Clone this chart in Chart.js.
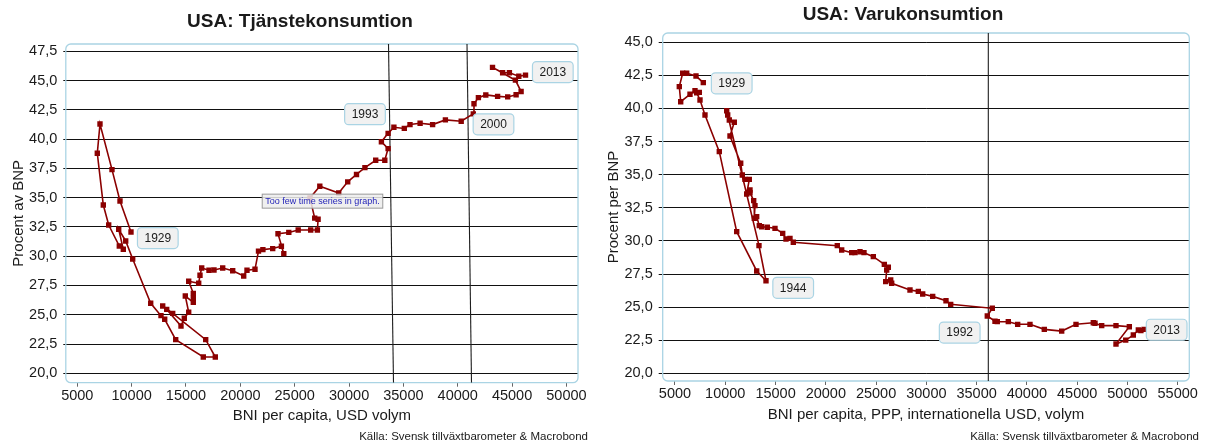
<!DOCTYPE html>
<html><head><meta charset="utf-8">
<script src="https://cdn.jsdelivr.net/npm/chart.js@4.4.1/dist/chart.umd.min.js"></script>
<style>
html,body{margin:0;padding:0;background:#fff;width:1208px;height:444px;overflow:hidden;}
canvas{position:absolute;top:0;}
#c1{left:12px;}
#c2{left:607px;}
</style></head><body>
<canvas id="c1" width="576" height="444"></canvas>
<canvas id="c2" width="592" height="444"></canvas>
<script>
// ---------- data ----------
const servX = [9940,8928,8192,7088,6840,7392,7889,8864,9232,8809,9453,10097,11753,12700,13041,14053,16592,17696,16813,13777,12857,13225,14540,14844,15249,14936,15672,15672,15672,15249,16169,16288,16445,17116,17576,18377,19297,20309,20612,21348,21670,22075,22977,23777,23998,23464,24458,25323,26473,27089,27154,26841,26408,27310,29049,29877,30687,31460,32453,33290,33594,32977,33594,34127,35084,35608,36538,37688,38865,40319,41432,41496,41901,42582,43668,44597,45370,45830,45306,43200,44129,44754,45618,46235];
const servY = [32.07,34.71,37.39,41.29,38.79,34.37,32.66,30.87,30.59,32.30,31.30,29.76,25.98,24.92,24.61,22.87,21.39,21.39,22.87,25.12,25.75,25.46,24.04,24.70,25.21,26.60,26.06,26.40,26.83,27.86,27.69,28.37,28.99,28.80,28.82,28.99,28.76,28.31,28.80,28.88,30.43,30.56,30.65,30.85,30.22,31.92,32.03,32.24,32.24,32.24,33.15,33.25,34.97,35.97,35.40,36.35,36.98,37.56,38.19,38.19,39.19,39.77,40.49,41.01,40.91,41.24,41.35,41.24,41.64,41.52,42.15,43.02,43.54,43.77,43.65,43.60,43.79,44.06,45.03,46.12,45.66,45.66,45.37,45.46];
const goodsX = [7815,7089,6164,5766,5428,5567,6492,6989,7417,7158,7487,7984,9406,11137,13126,14051,13354,10142,10242,10401,10898,10470,11535,11694,11962,12390,12131,12460,12460,12827,12957,12887,13126,13385,13623,14180,14946,15712,16040,16438,16766,21142,21580,22575,22903,23400,23798,24726,25820,26218,26056,25956,26453,26553,28373,29200,29637,30631,31954,32421,36558,36061,36827,37056,38150,39085,40308,41731,43461,44884,46605,46774,47440,48862,50188,48862,49829,50585,51083,51340,51650];
const goodsY = [41.95,42.45,42.66,42.66,41.65,40.51,41.07,41.34,41.22,41.19,40.64,39.51,36.74,30.70,27.73,26.99,29.64,39.83,39.51,39.13,38.96,37.92,35.86,34.98,34.65,34.65,33.54,33.84,33.64,33.04,32.66,31.71,31.83,31.15,31.07,31.03,30.95,30.57,30.14,30.19,29.90,29.64,29.31,29.11,29.11,29.18,29.11,28.81,28.23,28.01,27.80,26.92,27.05,26.80,26.29,26.19,25.99,25.81,25.48,25.21,24.91,24.33,23.93,23.90,23.90,23.70,23.70,23.32,23.19,23.70,23.82,23.78,23.60,23.60,23.52,22.21,22.51,22.89,23.27,23.22,23.32];

const servXTicks = [5000,10000,15000,20000,25000,30000,35000,40000,45000,50000];
const servYTicks = [20,22.5,25,27.5,30,32.5,35,37.5,40,42.5,45,47.5];
const goodsXTicks = [5000,10000,15000,20000,25000,30000,35000,40000,45000,50000,55000];
const goodsYTicks = [20,22.5,25,27.5,30,32.5,35,37.5,40,42.5,45];

// marker lines: [x at top, x at bottom]
const servMarkLines = [[33630,34090],[40852,41266]];
const goodsMarkLines = [[36162,36162]];

// year labels
const servNoteText = ['1929','1993','2000','2013'];
const servNoteX = [12406,31468,43290,48746];
const servNoteY = [31.55,42.13,41.26,45.72];
const goodsNoteText = ['1929','1944','1992','2013'];
const goodsNoteX = [10640,16756,33316,53900];
const goodsNoteY = [41.90,26.46,23.08,23.29];

const warnText = 'Too few time series in graph.';
const warnX = 27558, warnY = 34.70;

const source = 'Källa: Svensk tillväxtbarometer & Macrobond';

// ---------- rendering ----------
const FONT = "'Liberation Sans', Arial, Helvetica, sans-serif";
Chart.defaults.font.family = FONT;
Chart.defaults.color = '#1a1a1a';

function rrect(ctx, x, y, w, h, r) {
  ctx.beginPath();
  ctx.moveTo(x + r, y);
  ctx.lineTo(x + w - r, y);
  ctx.arcTo(x + w, y, x + w, y + r, r);
  ctx.lineTo(x + w, y + h - r);
  ctx.arcTo(x + w, y + h, x + w - r, y + h, r);
  ctx.lineTo(x + r, y + h);
  ctx.arcTo(x, y + h, x, y + h - r, r);
  ctx.lineTo(x, y + r);
  ctx.arcTo(x, y, x + r, y, r);
  ctx.closePath();
}

const framePlugin = {
  id: 'frame',
  beforeDatasetsDraw(chart) {
    const a = chart.chartArea, ctx = chart.ctx;
    ctx.save();
    ctx.strokeStyle = 'rgb(170,212,228)';
    ctx.lineWidth = 1.3;
    rrect(ctx, a.left, a.top, a.right - a.left, a.bottom - a.top, 5);
    ctx.stroke();
    ctx.restore();
  }
};

const notesPlugin = {
  id: 'notes',
  afterDatasetsDraw(chart, args, opts) {
    const ctx = chart.ctx, sx = chart.scales.x, sy = chart.scales.y;
    ctx.save();
    ctx.font = '12px ' + FONT;
    ctx.textAlign = 'center';
    ctx.textBaseline = 'middle';
    opts.text.forEach((t, i) => {
      const cx = sx.getPixelForValue(opts.x[i]);
      const cy = sy.getPixelForValue(opts.y[i]);
      const w = ctx.measureText(t).width + 14, h = 21;
      rrect(ctx, cx - w / 2, cy - h / 2, w, h, 4);
      ctx.fillStyle = '#f1f1f1';
      ctx.fill();
      ctx.strokeStyle = 'rgb(170,212,228)';
      ctx.lineWidth = 1.2;
      ctx.stroke();
      ctx.fillStyle = '#1a1a1a';
      ctx.fillText(t, cx, cy + 0.5);
    });
    if (opts.warn) {
      const cx = sx.getPixelForValue(opts.warn.x);
      const cy = sy.getPixelForValue(opts.warn.y);
      ctx.font = '9px ' + FONT;
      const w = ctx.measureText(opts.warn.text).width + 6, h = 14;
      ctx.fillStyle = 'rgba(236,236,236,0.85)';
      ctx.fillRect(cx - w / 2, cy - h / 2, w, h);
      ctx.strokeStyle = '#999';
      ctx.lineWidth = 1;
      ctx.strokeRect(cx - w / 2, cy - h / 2, w, h);
      ctx.fillStyle = '#2525b8';
      ctx.fillText(opts.warn.text, cx, cy + 0.5);
    }
    ctx.restore();
  }
};

function makeChart(id, c) {
  const pts = c.xs.map((x, i) => ({x: x, y: c.ys[i]}));
  const datasets = [{
    data: pts,
    showLine: true,
    borderColor: '#8b0000',
    backgroundColor: '#8b0000',
    borderWidth: 1.6,
    pointStyle: 'rect',
    pointRadius: 3.8,
    pointBorderWidth: 0,
    pointBackgroundColor: '#8b0000',
    order: 1
  }];
  c.marks.forEach(m => datasets.push({
    data: [{x: m[0], y: c.yMax}, {x: m[1], y: c.yMin}],
    showLine: true,
    borderColor: '#1e1e1e',
    borderWidth: 1.1,
    pointRadius: 0,
    order: 2
  }));
  return new Chart(document.getElementById(id), {
    type: 'scatter',
    data: {datasets: datasets},
    plugins: [framePlugin, notesPlugin],
    options: {
      responsive: false,
      animation: false,
      layout: {padding: 0},
      plugins: {
        legend: {display: false},
        tooltip: {enabled: false},
        title: {display: true, text: c.title, color: '#1a1a1a',
          font: {size: 19, weight: 'bold'}, padding: c.titlePad},
        subtitle: {display: true, text: source, position: 'bottom', align: 'end',
          color: '#1a1a1a', font: {size: 11.5}, padding: {top: 0, bottom: 0}},
        notes: {text: c.notes, x: c.noteX, y: c.noteY, warn: c.warn}
      },
      scales: {
        x: {
          type: 'linear', min: c.xMin, max: c.xMax,
          afterBuildTicks: s => { s.ticks = c.xTicks.map(v => ({value: v})); },
          afterFit: s => { s.height = c.xAxisH; },
          grid: {drawOnChartArea: false, tickLength: 4, color: '#666'},
          border: {display: false},
          ticks: {callback: v => String(v), font: {size: 14.5}, color: '#1a1a1a',
            padding: 0.6, maxRotation: 0, autoSkip: false},
          title: {display: true, text: c.xTitle, color: '#1a1a1a', font: {size: 15},
            padding: {top: 0, bottom: c.xTitlePadB}}
        },
        y: {
          type: 'linear', position: 'left', min: c.yMin, max: c.yMax,
          afterBuildTicks: s => { s.ticks = c.yTicks.map(v => ({value: v})); },
          afterFit: s => { s.width = c.yAxisW; },
          grid: {color: '#111', lineWidth: 1, tickLength: c.yTickLen},
          border: {display: false},
          ticks: {callback: v => v.toFixed(1).replace('.', ','), font: {size: 14.5},
            color: '#1a1a1a', padding: c.yTickPad, autoSkip: false},
          title: {display: true, text: c.yTitle, color: '#1a1a1a', font: {size: 15},
            padding: {top: c.yTitlePadT, bottom: 0}}
        },
        y2: {
          type: 'linear', position: 'right', display: true,
          grid: {display: false}, border: {display: false},
          ticks: {display: false},
          afterFit: s => { s.width = c.rightW; }
        }
      }
    }
  });
}

makeChart('c1', {
  xs: servX, ys: servY, xTicks: servXTicks, yTicks: servYTicks,
  xMin: 3942, xMax: 51064, yMin: 19.197, yMax: 48.12,
  title: 'USA: Tjänstekonsumtion', titlePad: {top: 10.6, bottom: 10.6},
  xTitle: 'BNI per capita, USD volym', yTitle: 'Procent av BNP',
  xAxisH: 47.5, xTitlePadB: 5.6, yAxisW: 53.8, rightW: 10,
  yTickLen: 2.5, yTickPad: 6, yTitlePadT: -2.6,
  marks: servMarkLines,
  notes: servNoteText, noteX: servNoteX, noteY: servNoteY,
  warn: {text: warnText, x: warnX, y: warnY}
});

makeChart('c2', {
  xs: goodsX, ys: goodsY, xTicks: goodsXTicks, yTicks: goodsYTicks,
  xMin: 3777, xMax: 56153, yMin: 19.42, yMax: 45.70,
  title: 'USA: Varukonsumtion', titlePad: {top: 3.2, bottom: 7.0},
  xTitle: 'BNI per capita, PPP, internationella USD, volym', yTitle: 'Procent per BNP',
  xAxisH: 49.2, xTitlePadB: 6.4, yAxisW: 55.7, rightW: 9.7,
  yTickLen: 4, yTickPad: 6, yTitlePadT: -2,
  marks: goodsMarkLines,
  notes: goodsNoteText, noteX: goodsNoteX, noteY: goodsNoteY,
  warn: null
});
</script>
</body></html>
